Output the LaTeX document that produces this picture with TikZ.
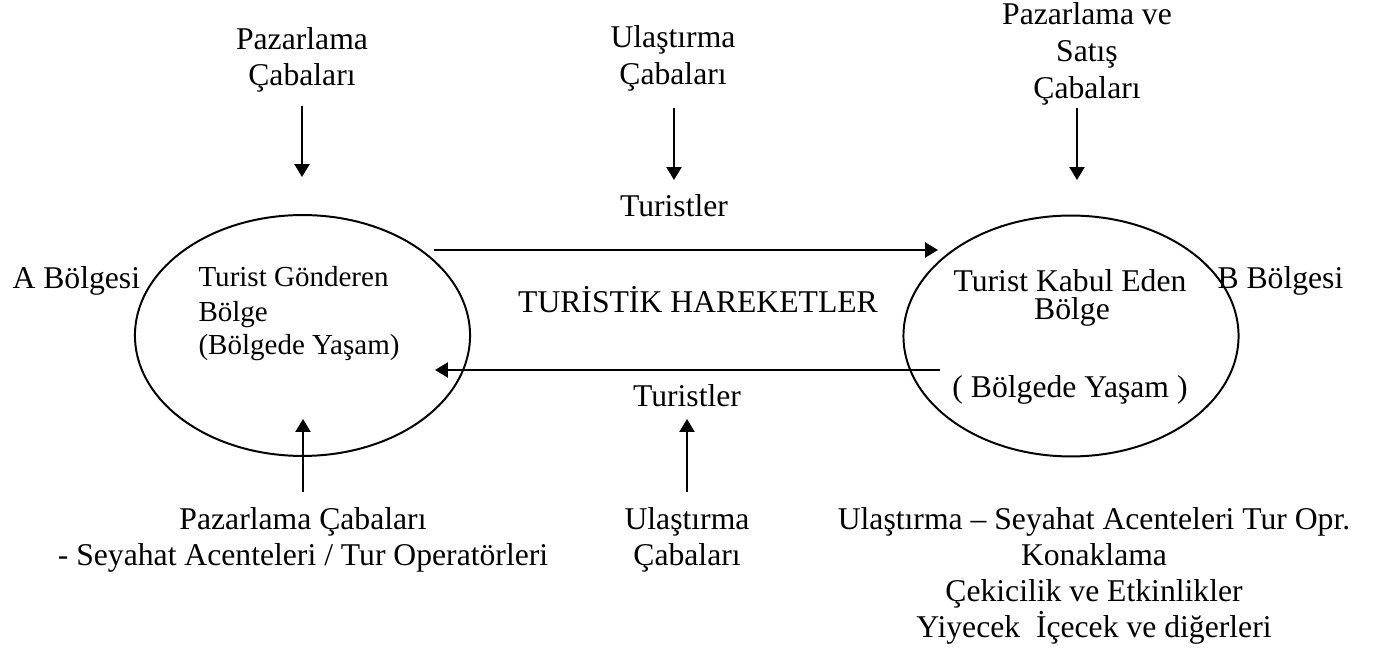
\documentclass[tikz,border=0pt]{standalone}
\usepackage{fontspec}
\setmainfont{Liberation Serif}
\usetikzlibrary{arrows.meta,shapes.geometric}
\begin{document}
% one unit = one pixel of a 1373 x 652 canvas, y grows downwards
\begin{tikzpicture}[x=0.379pt,y=-0.379pt,
  lbl/.style={inner sep=0pt, anchor=base, font=\fontsize{12}{14}\selectfont},
  lblleft/.style={inner sep=0pt, anchor=base west, font=\fontsize{12}{14}\selectfont},
  lblsmall/.style={inner sep=0pt, anchor=base west, font=\fontsize{11}{13}\selectfont},
  flow/.style={line width=0.75pt, -{Triangle[length=4.9pt,width=5.7pt]}},
  region/.style={draw, line width=0.75pt, ellipse, inner sep=0pt,
    minimum width=127pt, minimum height=91.3pt}]
\useasboundingbox (0,0) rectangle (1373,652);

% the two regions
\node[region] (send) at (302.5,335.5) {};
\node[region] (recv) at (1071,336) {};

% region names
\node[lblleft] (aname) at (12,289) {A Bölgesi};
\node[lblleft] (bname) at (1217,289) {B Bölgesi};

% inside the sending region
\node[lblsmall] (s1) at (198,287) {Turist Gönderen};
\node[lblsmall] (s2) at (198,322) {Bölge};
\node[lblsmall] (s3) at (198,355) {(Bölgede Yaşam)};

% inside the receiving region
\node[lbl] (r1) at (1070,292) {Turist Kabul Eden};
\node[lbl] (r2) at (1072,320) {Bölge};
\node[lbl] (r3) at (1070,398) {( Bölgede Yaşam )};

% centre title
\node[lbl] (title) at (698,313) {TURİSTİK HAREKETLER};

% top labels
\node[lbl] (tl1) at (302,50) {Pazarlama};
\node[lbl] (tl2) at (302,86) {Çabaları};
\node[lbl] (tm1) at (673,48) {Ulaştırma};
\node[lbl] (tm2) at (673,85) {Çabaları};
\node[lbl] (tur1) at (674,217) {Turistler};
\node[lbl] (tr1) at (1087,25) {Pazarlama ve};
\node[lbl] (tr2) at (1087,62) {Satış};
\node[lbl] (tr3) at (1087,99) {Çabaları};

% bottom labels
\node[lbl] (tur2) at (687,407) {Turistler};
\node[lbl] (bl1) at (303,530) {Pazarlama Çabaları};
\node[lbl] (bl2) at (303,566) {- Seyahat Acenteleri / Tur Operatörleri};
\node[lbl] (bm1) at (687,530) {Ulaştırma};
\node[lbl] (bm2) at (687,566) {Çabaları};
\node[lbl] (br1) at (1094,530) {Ulaştırma – Seyahat Acenteleri Tur Opr.};
\node[lbl] (br2) at (1094,566) {Konaklama};
\node[lbl] (br3) at (1094,602) {Çekicilik ve Etkinlikler};
\node[lbl] (br4) at (1094,638) {Yiyecek\ \ İçecek ve diğerleri};

% arrow end points
\coordinate (a1s) at (302,106);  \coordinate (a1e) at (302,177);
\coordinate (a2s) at (674,108);  \coordinate (a2e) at (674,180);
\coordinate (a3s) at (1077,108); \coordinate (a3e) at (1077,180);
\coordinate (a4s) at (303,492);  \coordinate (a4e) at (303,419);
\coordinate (a5s) at (687,492);  \coordinate (a5e) at (687,419);
\coordinate (gos) at (434,250);  \coordinate (goe) at (938,250);
\coordinate (bks) at (940,370);  \coordinate (bke) at (435,370);

% efforts acting on the regions
\draw[flow] (a1s) -- (a1e);
\draw[flow] (a2s) -- (a2e);
\draw[flow] (a3s) -- (a3e);
\draw[flow] (a4s) -- (a4e);
\draw[flow] (a5s) -- (a5e);

% tourist flows between the regions
\draw[flow] (gos) -- (goe);
\draw[flow] (bks) -- (bke);
\end{tikzpicture}
\end{document}
